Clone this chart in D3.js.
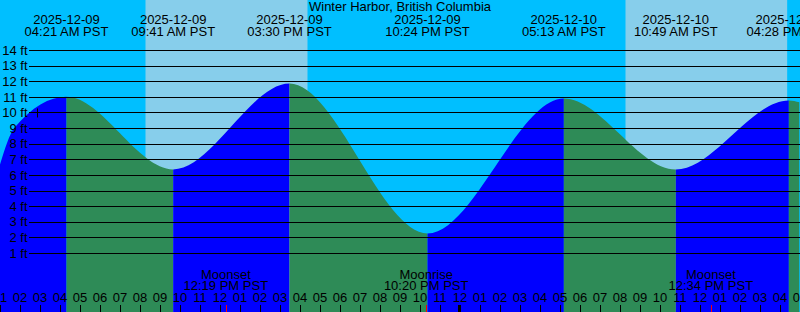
<!DOCTYPE html>
<html>
<head>
<meta charset="utf-8">
<script src="https://cdn.jsdelivr.net/npm/d3@7"></script>
<style>
  html, body { margin: 0; padding: 0; background: #00bfff; }
  svg { display: block; }
  text { font-family: "Liberation Sans", Arial, sans-serif; font-size: 13px; fill: #000; }
</style>
</head>
<body>
<svg width="800" height="312"></svg>
<script>
const title = "Winter Harbor, British Columbia";

// high / low tides (PST), feet
const tideTimes = ["2025-12-09 04:21", "2025-12-09 09:41", "2025-12-09 15:30", "2025-12-09 22:24",
                   "2025-12-10 05:13", "2025-12-10 10:49", "2025-12-10 16:28"];
const tideHeights = [11.0, 6.35, 11.85, 2.25, 10.9, 6.35, 10.77];

// curve readings near the edges of the window
const edgeTimes = ["2025-12-09 01:00", "2025-12-09 01:45", "2025-12-10 17:00"];
const edgeHeights = [6.56, 9.02, 10.65];

const sunrise = ["2025-12-09 08:18", "2025-12-10 08:18"];
const sunset = ["2025-12-09 16:24", "2025-12-10 16:23"];

const moonTimes = ["2025-12-09 12:19", "2025-12-09 22:20", "2025-12-10 12:34"];
const moonNames = ["Moonset", "Moonrise", "Moonset"];

const levels = d3.range(1, 15);

const W = 800, H = 312;
const parse = d3.utcParse("%Y-%m-%d %H:%M");
const fmtDate = d3.utcFormat("%Y-%m-%d");
const fmtTime = t => d3.utcFormat("%I:%M %p")(t) + " PST";

const x = d3.scaleUtc()
  .domain([parse("2025-12-09 01:00"), parse("2025-12-10 17:00")])
  .range([-0.5, 799.5]);
const y = d3.scaleLinear().domain([0, 14]).range([268.6, 50]);

const svg = d3.select("svg");

// background: night, then day bands
svg.append("rect").attr("width", W).attr("height", H).attr("fill", "#00bfff");
svg.selectAll(".day")
  .data(sunrise.map((s, i) => [parse(s), parse(sunset[i])]))
  .join("rect")
  .attr("class", "day")
  .attr("x", d => x(d[0]))
  .attr("width", d => x(d[1]) - x(d[0]))
  .attr("y", 0)
  .attr("height", H)
  .attr("fill", "#87ceeb");

// tide curve
const points = edgeTimes.map((t, i) => ({ t: parse(t), h: edgeHeights[i] }))
  .concat(tideTimes.map((t, i) => ({ t: parse(t), h: tideHeights[i] })))
  .sort((a, b) => a.t - b.t);

const area = d3.area()
  .x(d => x(d.t))
  .y0(H)
  .y1(d => y(d.h))
  .curve(d3.curveMonotoneX);

svg.append("clipPath").attr("id", "tide")
  .append("path").attr("d", area(points));

// rising = blue, falling = green
const isHigh = tideHeights.map((h, i) =>
  h > (i > 0 ? tideHeights[i - 1] : tideHeights[i + 1]));
const bounds = [x.domain()[0]].concat(tideTimes.map(parse), [x.domain()[1]]);
const segments = d3.pairs(bounds).map((p, i) => ({
  a: p[0], b: p[1],
  rising: i < isHigh.length ? isHigh[i] : !isHigh[isHigh.length - 1]
}));

svg.append("g").attr("clip-path", "url(#tide)")
  .selectAll("rect")
  .data(segments)
  .join("rect")
  .attr("x", d => x(d.a))
  .attr("width", d => x(d.b) - x(d.a))
  .attr("y", 0)
  .attr("height", H)
  .attr("fill", d => d.rising ? "#0000ff" : "#2e8b57");

// level lines + labels
const yAxis = svg.append("g")
  .attr("transform", "translate(29,0)")
  .call(d3.axisLeft(y).tickValues(levels).tickSize(-(W - 29)).tickPadding(1.5)
    .tickFormat(d => d + " ft"));
yAxis.select(".domain").remove();
yAxis.attr("font-size", null).attr("font-family", null);
yAxis.selectAll("line").attr("stroke", "#000").attr("shape-rendering", "crispEdges");

// small mark on the 10 ft line
svg.append("line")
  .attr("x1", 37.5).attr("x2", 37.5)
  .attr("y1", y(10) - 4).attr("y2", y(10) + 5)
  .attr("stroke", "#000");

// title
svg.append("text")
  .attr("x", W / 2).attr("y", 11)
  .attr("text-anchor", "middle")
  .text(title);

// high / low labels along the top
const tideLabel = svg.selectAll(".tlabel")
  .data(tideTimes.map(parse))
  .join("text")
  .attr("class", "tlabel")
  .attr("text-anchor", "middle");
tideLabel.append("tspan").attr("x", d => x(d)).attr("y", 24).text(fmtDate);
tideLabel.append("tspan").attr("x", d => x(d)).attr("y", 36).text(fmtTime);

// hour axis along the bottom
const xAxis = svg.append("g")
  .attr("transform", `translate(0,${H})`)
  .call(d3.axisTop(x).ticks(d3.utcHour.every(1)).tickSize(7).tickPadding(3)
    .tickFormat(d3.utcFormat("%I")));
xAxis.select(".domain").remove();
xAxis.attr("font-size", null).attr("font-family", null);
xAxis.selectAll("line").attr("stroke", "#000").attr("shape-rendering", "crispEdges");
xAxis.selectAll(".tick")
  .filter(d => d.getUTCHours() === 0)
  .select("line")
  .attr("stroke-width", 3)
  .attr("transform", "translate(-1,0)");

// moon events
const moon = moonTimes.map((t, i) => ({ t: parse(t), name: moonNames[i] }));
svg.selectAll(".mtick")
  .data(moon)
  .join("line")
  .attr("class", "mtick")
  .attr("x1", d => Math.round(x(d.t)) + 0.5)
  .attr("x2", d => Math.round(x(d.t)) + 0.5)
  .attr("y1", H - 7).attr("y2", H)
  .attr("stroke", "#ff0000");

const moonLabel = svg.selectAll(".mlabel")
  .data(moon)
  .join("text")
  .attr("class", "mlabel")
  .attr("text-anchor", "middle");
moonLabel.append("tspan").attr("x", d => x(d.t)).attr("y", 278.5).text(d => d.name);
moonLabel.append("tspan").attr("x", d => x(d.t)).attr("y", 290).text(d => fmtTime(d.t));
</script>
</body>
</html>
